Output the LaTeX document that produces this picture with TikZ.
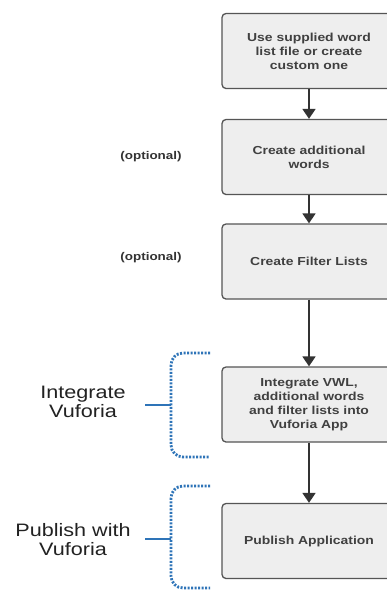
\documentclass[tikz,border=0pt]{standalone}
\usepackage{fontspec}
\setmainfont{Liberation Sans}[FakeStretch=1.2]
\usetikzlibrary{arrows.meta}
\definecolor{boxfill}{HTML}{EEEEEE}
\definecolor{boxline}{HTML}{555555}
\definecolor{txt}{HTML}{404040}
\definecolor{arr}{HTML}{333333}
\definecolor{brk}{HTML}{2E74B8}
\definecolor{lbl}{HTML}{222222}
\begin{document}
\begin{tikzpicture}[x=1pt,y=-1pt,
  stepbox/.style={draw=boxline, line width=1.3pt, fill=boxfill, rounded corners=4pt,
    minimum width=174pt, minimum height=75pt, text width=160pt, align=center,
    font=\fontsize{11.6}{14}\selectfont\bfseries, text=txt, inner sep=0pt},
  flow/.style={draw=arr, line width=1.8pt, -{Triangle[width=13pt,length=10pt]}},
  optlabel/.style={font=\fontsize{11.2}{14}\selectfont\bfseries, text=arr, inner sep=0pt},
  sidelabel/.style={font=\fontsize{18}{19}\selectfont, text=lbl, align=center, inner sep=0pt},
  bracket/.style={draw=brk, line width=2.8pt, dash pattern=on 2pt off 1.5pt, rounded corners=12pt},
  tick/.style={draw=brk, line width=2.8pt}
]
\clip (0,0) rectangle (387,590);
\fill[white] (0,0) rectangle (387,590);

\node[stepbox] (s1) at (309,51) {Use supplied word\\list file or create\\custom one};
\node[stepbox] (s2) at (309,157) {Create additional\\words};
\node[stepbox] (s3) at (309,261.5) {Create Filter Lists};
\node[stepbox] (s4) at (309,404.5) {Integrate VWL,\\additional words\\and filter lists into\\Vuforia App};
\node[stepbox] (s5) at (309,541) {Publish Application};

\draw[flow] (s1) -- (s2);
\draw[flow] (s2) -- (s3);
\draw[flow] (s3) -- (s4);
\draw[flow] (s4) -- (s5);

\node[optlabel] (o1) at (151,157) {(optional)};
\node[optlabel] (o2) at (151,258) {(optional)};

% Integrate bracket
\draw[bracket] (210,353) -- (171,353) -- (171,457) -- (210,457);
\coordinate (b1) at (171,405);
\coordinate (t1) at (145,405);
\draw[tick] (t1) -- (b1);
\node[sidelabel] (l1) at (83,402) {Integrate\\Vuforia};

% Publish bracket
\draw[bracket] (210,486) -- (171,486) -- (171,588) -- (210,588);
\coordinate (b2) at (171,539);
\coordinate (t2) at (145,539);
\draw[tick] (t2) -- (b2);
\node[sidelabel] (l2) at (73,540) {Publish with\\Vuforia};
\end{tikzpicture}
\end{document}
